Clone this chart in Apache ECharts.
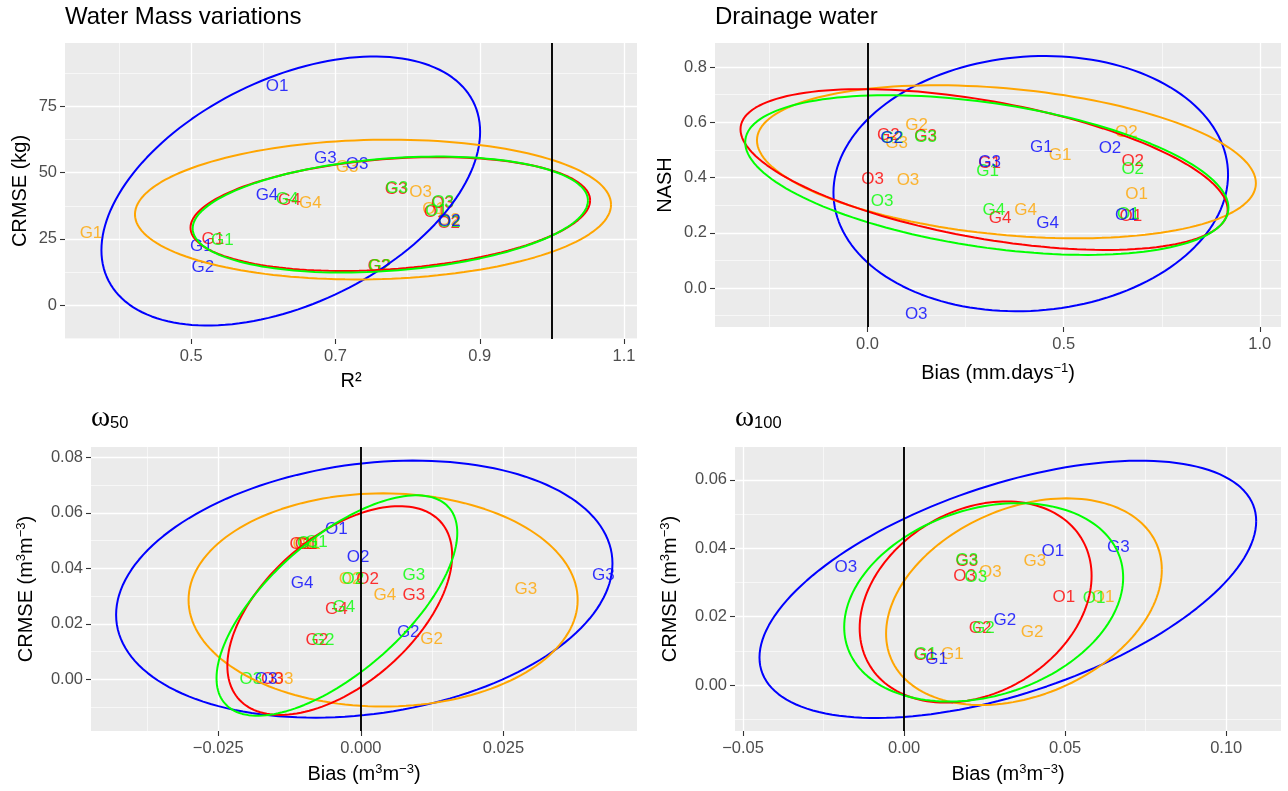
<!DOCTYPE html>
<html>
<head>
<meta charset="utf-8">
<script src="https://cdn.jsdelivr.net/npm/echarts@6/dist/echarts.min.js"></script>
<style>
html, body { margin: 0; padding: 0; background: #ffffff; }
#chart { width: 1288px; height: 791px; }
</style>
</head>
<body>
<div id="chart"></div>
<script>
// ---------------- DATA ----------------
// group order everywhere: blue, red, green, orange
const groupColors = ['#0000FF', '#FF0000', '#00FF00', '#FFA500'];

// Panel 1 : Water Mass variations  (x = R², y = CRMSE kg) ; points [x, y, label]
const wmBlue   = [[0.619, 82.8, 'O1'], [0.858, 31.8, 'O2'], [0.730, 53.2, 'O3'], [0.514, 22.3, 'G1'], [0.516, 14.4, 'G2'], [0.686, 55.4, 'G3'], [0.605, 41.5, 'G4']];
const wmRed    = [[0.838, 35.2, 'O1'], [0.857, 31.0, 'O2'], [0.848, 38.4, 'O3'], [0.530, 25.0, 'G1'], [0.760, 14.5, 'G2'], [0.784, 43.6, 'G3'], [0.636, 39.4, 'G4']];
const wmGreen  = [[0.840, 35.6, 'O1'], [0.858, 31.4, 'O2'], [0.849, 38.7, 'O3'], [0.543, 24.6, 'G1'], [0.761, 14.8, 'G2'], [0.785, 44.0, 'G3'], [0.633, 40.0, 'G4']];
const wmOrange = [[0.836, 36.3, 'O1'], [0.857, 32.0, 'O2'], [0.818, 42.5, 'O3'], [0.361, 27.0, 'G1'], [0.762, 14.8, 'G2'], [0.716, 52.0, 'G3'], [0.665, 38.5, 'G4']];
// ellipses [centre x, centre y, half-range x, half-range y, tilt r]
const wmEllipses = [[0.638, 43.1, 0.2625, 50.8, 0.44], [0.776, 34.4, 0.277, 21.5, 0.24], [0.776, 34.2, 0.274, 21.9, 0.24], [0.752, 36.1, 0.330, 26.4, 0.07]];
const wmXLim = [0.325, 1.118];
const wmYLim = [-12.8, 99.0];
const wmXTicks = [0.5, 0.7, 0.9, 1.1];
const wmYTicks = [0, 25, 50, 75];
const wmXMinor = [0.4, 0.6, 0.8, 1.0];
const wmYMinor = [-12.5, 12.5, 37.5, 62.5, 87.5];
const wmRef = 1;

// Panel 2 : Drainage water (x = Bias mm/day, y = NASH)
const drBlue   = [[0.660, 0.265, 'O1'], [0.618, 0.505, 'O2'], [0.124, -0.094, 'O3'], [0.443, 0.511, 'G1'], [0.061, 0.541, 'G2'], [0.311, 0.455, 'G3'], [0.459, 0.235, 'G4']];
const drRed    = [[0.671, 0.259, 'O1'], [0.676, 0.457, 'O2'], [0.013, 0.393, 'O3'], [0.311, 0.450, 'G1'], [0.053, 0.553, 'G2'], [0.148, 0.548, 'G3'], [0.338, 0.253, 'G4']];
const drGreen  = [[0.665, 0.267, 'O1'], [0.676, 0.431, 'O2'], [0.037, 0.315, 'O3'], [0.306, 0.421, 'G1'], [0.063, 0.541, 'G2'], [0.148, 0.544, 'G3'], [0.322, 0.283, 'G4']];
const drOrange = [[0.686, 0.339, 'O1'], [0.660, 0.563, 'O2'], [0.103, 0.391, 'O3'], [0.491, 0.479, 'G1'], [0.125, 0.590, 'G2'], [0.074, 0.523, 'G3'], [0.403, 0.283, 'G4']];
const drEllipses = [[0.416, 0.378, 0.503, 0.462, 0.07], [0.297, 0.429, 0.621, 0.291, -0.50], [0.304, 0.409, 0.616, 0.289, -0.41], [0.354, 0.457, 0.636, 0.277, -0.28]];
const drXLim = [-0.389, 1.054];
const drYLim = [-0.141, 0.887];
const drXTicks = [0, 0.5, 1.0];
const drYTicks = [0, 0.2, 0.4, 0.6, 0.8];
const drXMinor = [-0.25, 0.25, 0.75];
const drYMinor = [-0.1, 0.1, 0.3, 0.5, 0.7];
const drRef = 0;

// Panel 3 : omega 50 (x = Bias m3/m3, y = CRMSE m3/m3)
const w50Blue   = [[-0.0043, 0.0539, 'O1'], [-0.0005, 0.0439, 'O2'], [-0.0166, 0.0, 'O3'], [0.0083, 0.0168, 'G2'], [0.0425, 0.0374, 'G3'], [-0.0103, 0.0346, 'G4']];
const w50Red    = [[-0.0105, 0.0487, 'O1'], [0.0012, 0.0360, 'O2'], [-0.0155, 0.0, 'O3'], [-0.0096, 0.0487, 'G1'], [-0.0077, 0.0139, 'G2'], [0.0093, 0.0302, 'G3'], [-0.0043, 0.0254, 'G4']];
const w50Green  = [[-0.0092, 0.0490, 'O1'], [-0.0014, 0.0360, 'O2'], [-0.0193, 0.0, 'O3'], [-0.0078, 0.0493, 'G1'], [-0.0066, 0.0139, 'G2'], [0.0093, 0.0374, 'G3'], [-0.0030, 0.0258, 'G4']];
const w50Orange = [[-0.0100, 0.0485, 'O1'], [-0.0019, 0.0360, 'O2'], [-0.0138, 0.0, 'O3'], [-0.0090, 0.0485, 'G1'], [0.0124, 0.0143, 'G2'], [0.0289, 0.0326, 'G3'], [0.0042, 0.0302, 'G4']];
const w50Ellipses = [[0.0006, 0.0325, 0.0435, 0.0463, 0.20], [-0.0037, 0.0248, 0.0197, 0.0376, 0.53], [-0.0042, 0.0266, 0.0211, 0.0397, 0.66], [0.0039, 0.0286, 0.0341, 0.0384, 0.0]];
const w50XLim = [-0.0473, 0.0484];
const w50YLim = [-0.0186, 0.0837];
const w50XTicks = [-0.025, 0, 0.025];
const w50YTicks = [0, 0.02, 0.04, 0.06, 0.08];
const w50XMinor = [-0.0375, -0.0125, 0.0125, 0.0375];
const w50YMinor = [-0.01, 0.01, 0.03, 0.05, 0.07];
const w50Ref = 0;

// Panel 4 : omega 100
const w100Blue   = [[0.0462, 0.0390, 'O1'], [-0.0181, 0.0344, 'O3'], [0.0101, 0.0075, 'G1'], [0.0313, 0.0189, 'G2'], [0.0665, 0.0402, 'G3']];
const w100Red    = [[0.0496, 0.0256, 'O1'], [0.0188, 0.0319, 'O3'], [0.0064, 0.0087, 'G1'], [0.0236, 0.0166, 'G2'], [0.0195, 0.0362, 'G3']];
const w100Green  = [[0.0590, 0.0255, 'O1'], [0.0223, 0.0316, 'O3'], [0.0067, 0.0090, 'G1'], [0.0246, 0.0166, 'G2'], [0.0195, 0.0365, 'G3']];
const w100Orange = [[0.0618, 0.0256, 'O1'], [0.0268, 0.0331, 'O3'], [0.0150, 0.0090, 'G1'], [0.0397, 0.0155, 'G2'], [0.0406, 0.0363, 'G3']];
const w100Ellipses = [[0.0322, 0.0280, 0.0771, 0.0376, 0.53], [0.0222, 0.0243, 0.0360, 0.0294, 0.26], [0.0247, 0.0242, 0.0433, 0.0290, 0.25], [0.0372, 0.0244, 0.0428, 0.0302, 0.31]];
const w100XLim = [-0.0525, 0.1170];
const w100YLim = [-0.0134, 0.0696];
const w100XTicks = [-0.05, 0, 0.05, 0.10];
const w100YTicks = [0, 0.02, 0.04, 0.06];
const w100XMinor = [-0.025, 0.025, 0.075];
const w100YMinor = [-0.01, 0.01, 0.03, 0.05];
const w100Ref = 0;

// ---------------- PANEL DEFINITIONS ----------------
const panels = [
  { title: 'Water Mass variations', xName: 'R²', yName: 'CRMSE (kg)',
    groups: [wmBlue, wmRed, wmGreen, wmOrange], ell: wmEllipses,
    xLim: wmXLim, yLim: wmYLim, xTicks: wmXTicks, yTicks: wmYTicks, xMinor: wmXMinor, yMinor: wmYMinor, ref: wmRef },
  { title: 'Drainage water', xName: 'Bias (mm.days{sup|−1})', yName: 'NASH',
    groups: [drBlue, drRed, drGreen, drOrange], ell: drEllipses,
    xLim: drXLim, yLim: drYLim, xTicks: drXTicks, yTicks: drYTicks, xMinor: drXMinor, yMinor: drYMinor, ref: drRef },
  { title: '{w|ω}{s|50}', xName: 'Bias (m{sup|3}m{sup|−3})', yName: 'CRMSE (m{sup|3}m{sup|−3})',
    groups: [w50Blue, w50Red, w50Green, w50Orange], ell: w50Ellipses,
    xLim: w50XLim, yLim: w50YLim, xTicks: w50XTicks, yTicks: w50YTicks, xMinor: w50XMinor, yMinor: w50YMinor, ref: w50Ref },
  { title: '{w|ω}{s|100}', xName: 'Bias (m{sup|3}m{sup|−3})', yName: 'CRMSE (m{sup|3}m{sup|−3})',
    groups: [w100Blue, w100Red, w100Green, w100Orange], ell: w100Ellipses,
    xLim: w100XLim, yLim: w100YLim, xTicks: w100XTicks, yTicks: w100YTicks, xMinor: w100XMinor, yMinor: w100YMinor, ref: w100Ref }
];

// ---------------- LAYOUT / STYLE ----------------
const FONT = "'Liberation Sans', Arial, Helvetica, sans-serif";
const SERIF = "'Liberation Serif', 'DejaVu Serif', serif";
const layouts = [
  { left: 65,  top: 43,  width: 572, height: 296, xGap: 31, yGap: 34, xDec: 1, yDec: 0, titleTop: 5 },
  { left: 715, top: 43,  width: 566, height: 284, xGap: 35, yGap: 39, xDec: 1, yDec: 1, titleTop: 5 },
  { left: 91,  top: 447, width: 546, height: 284, xGap: 32, yGap: 54, xDec: 3, yDec: 2, titleTop: 404 },
  { left: 735, top: 447, width: 546, height: 284, xGap: 32, yGap: 54, xDec: 2, yDec: 2, titleTop: 404 }
];

function fmt(v, d) {
  return (v < -1e-12 ? '\u2212' : '') + Math.abs(v).toFixed(d);
}

function ellipsePoints(e) {
  const cx = e[0], cy = e[1], rx = e[2], ry = e[3], r = e[4];
  const phi = Math.acos(r);
  const pts = [];
  const n = 160;
  for (let i = 0; i <= n; i++) {
    const t = 2 * Math.PI * i / n;
    pts.push([cx + rx * Math.cos(t), cy + ry * Math.cos(t - phi)]);
  }
  return pts;
}

const nameStyle = {
  fontSize: 20, color: '#000000', fontFamily: FONT, lineHeight: 22,
  rich: { sup: { fontSize: 13, color: '#000000', fontFamily: FONT, lineHeight: 8, verticalAlign: 'top' } }
};

const grids = [], xAxes = [], yAxes = [], minorX = [], minorY = [], series = [], titles = [];

panels.forEach((p, i) => {
  const L = layouts[i];
  grids.push({ left: L.left, top: L.top, width: L.width, height: L.height,
    show: true, backgroundColor: '#EBEBEB', borderWidth: 0, containLabel: false, outerBoundsMode: 'none' });

  titles.push({
    text: p.title, left: L.left, top: L.titleTop, padding: 0,
    textStyle: {
      fontSize: 24, fontWeight: 'normal', color: '#000000', fontFamily: FONT,
      rich: {
        w: { fontSize: 29, fontFamily: SERIF, color: '#000000', lineHeight: 28, verticalAlign: 'top' },
        s: { fontSize: 16.5, fontFamily: FONT, color: '#000000', lineHeight: 12, verticalAlign: 'bottom' }
      }
    }
  });

  xAxes.push({
    type: 'value', gridIndex: i, min: p.xLim[0], max: p.xLim[1], position: 'bottom',
    name: p.xName, nameLocation: 'middle', nameGap: L.xGap, nameTextStyle: nameStyle,
    axisLine: { show: false, onZero: false },
    axisTick: { show: true, length: 5, customValues: p.xTicks, lineStyle: { color: '#333333', width: 1.1 } },
    axisLabel: { show: true, customValues: p.xTicks, margin: 9, color: '#4D4D4D', fontSize: 16.5, fontFamily: FONT,
      formatter: (v) => fmt(v, L.xDec) },
    splitLine: { show: true, lineStyle: { color: '#FFFFFF', width: 1.3 } }
  });
  yAxes.push({
    type: 'value', gridIndex: i, min: p.yLim[0], max: p.yLim[1], position: 'left',
    name: p.yName, nameLocation: 'middle', nameGap: L.yGap, nameRotate: 90, nameTextStyle: nameStyle,
    axisLine: { show: false, onZero: false },
    axisTick: { show: true, length: 5, customValues: p.yTicks, lineStyle: { color: '#333333', width: 1.1 } },
    axisLabel: { show: true, customValues: p.yTicks, margin: 8, color: '#4D4D4D', fontSize: 16.5, fontFamily: FONT,
      formatter: (v) => fmt(v, L.yDec) },
    splitLine: { show: true, lineStyle: { color: '#FFFFFF', width: 1.3 } }
  });
  minorX.push({
    type: 'value', gridIndex: i, min: p.xLim[0], max: p.xLim[1], position: 'bottom',
    axisLine: { show: false, onZero: false }, axisTick: { show: false, customValues: p.xMinor },
    axisLabel: { show: false, customValues: p.xMinor },
    splitLine: { show: true, lineStyle: { color: '#FFFFFF', width: 0.6 } }
  });
  minorY.push({
    type: 'value', gridIndex: i, min: p.yLim[0], max: p.yLim[1], position: 'left',
    axisLine: { show: false, onZero: false }, axisTick: { show: false, customValues: p.yMinor },
    axisLabel: { show: false, customValues: p.yMinor },
    splitLine: { show: true, lineStyle: { color: '#FFFFFF', width: 0.6 } }
  });

  // text labels (drawn first)
  [3, 1, 2, 0].forEach((g) => {
    series.push({
      type: 'scatter', xAxisIndex: i, yAxisIndex: i, symbol: 'circle', symbolSize: 1,
      itemStyle: { color: 'rgba(0,0,0,0)' }, silent: true, z: 2, animation: false,
      emphasis: { disabled: true },
      data: p.groups[g].map((d) => ({ value: [d[0], d[1]], name: d[2] })),
      label: { show: true, position: 'inside', formatter: '{b}', color: groupColors[g],
        fontSize: 17, fontFamily: FONT, textBorderWidth: 0, textBorderColor: 'transparent' }
    });
  });

  // ellipses
  [0, 3, 1, 2].forEach((g) => {
    series.push({
      type: 'line', xAxisIndex: i, yAxisIndex: i, data: ellipsePoints(p.ell[g]),
      showSymbol: false, symbol: 'none', smooth: false, clip: true, silent: true, animation: false, z: 3,
      lineStyle: { color: groupColors[g], width: 2.0 }, emphasis: { disabled: true }
    });
  });

  // reference vertical line
  series.push({
    type: 'line', xAxisIndex: i, yAxisIndex: i, data: [], silent: true, animation: false, z: 4,
    markLine: { silent: true, symbol: ['none', 'none'], animation: false, label: { show: false },
      lineStyle: { color: '#000000', width: 1.9, type: 'solid' }, emphasis: { disabled: true },
      data: [{ xAxis: p.ref }] }
  });
});

const chart = echarts.init(document.getElementById('chart'), null, { renderer: 'canvas' });
chart.setOption({
  animation: false,
  backgroundColor: '#FFFFFF',
  title: titles,
  grid: grids,
  xAxis: xAxes.concat(minorX),
  yAxis: yAxes.concat(minorY),
  series: series
});
</script>
</body>
</html>
